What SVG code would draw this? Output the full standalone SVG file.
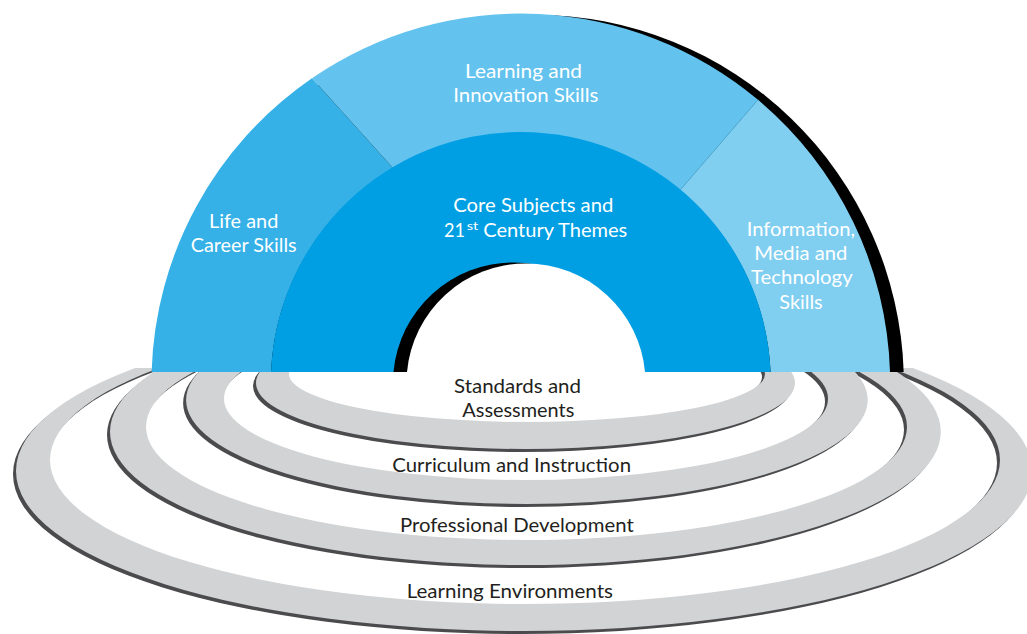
<svg xmlns="http://www.w3.org/2000/svg" xmlns:xlink="http://www.w3.org/1999/xlink" width="1027" height="634" viewBox="0 0 1027 634">
  <style>
    .band { fill: #d1d3d4; fill-rule: evenodd; }
    .shadow { fill: #4b4b4d; fill-rule: evenodd; }
    .life { fill: #35b1e8; }
    .learn { fill: #63c3ee; }
    .info { fill: #80cef0; }
    .core { fill: #009fe3; }
    .wt { font-family: Lato, "Open Sans", "Liberation Sans", sans-serif; font-size: 20px; fill: #ffffff; }
    .bt { font-family: Lato, "Open Sans", "Liberation Sans", sans-serif; font-size: 20px; fill: #231f20; }
  </style>
  <defs>
    <clipPath id="below">
      <rect x="0" y="368" width="1027" height="266"/>
    </clipPath>
    <path id="r4" d="M16,471 A508,160 0 1 0 1032,471 A508,160 0 1 0 16,471 Z M50,460 A475,144 0 1 0 1000,460 A475,144 0 1 0 50,460 Z"/>
    <path id="r3" d="M110,431.7 A415.4,133.3 0 1 0 940.8,431.7 A415.4,133.3 0 1 0 110,431.7 Z M146,426.8 A380.5,113.2 0 1 0 907,426.8 A380.5,113.2 0 1 0 146,426.8 Z"/>
    <path id="r2" d="M186.1,400 A340.8,104 0 1 0 867.7,400 A340.8,104 0 1 0 186.1,400 Z M224,398.7 A302,81.3 0 1 0 828,398.7 A302,81.3 0 1 0 224,398.7 Z"/>
    <path id="r1" d="M256,383 A269.5,66 0 1 0 795,383 A269.5,66 0 1 0 256,383 Z M289,374 A238,48 0 1 0 765,374 A238,48 0 1 0 289,374 Z"/>
  </defs>

  <g id="rings" clip-path="url(#below)">
    <g id="learning-environments">
      <use xlink:href="#r4" href="#r4" class="shadow" transform="translate(-3,3)"/>
      <use xlink:href="#r4" href="#r4" class="band"/>
    </g>
    <g id="professional-development">
      <use xlink:href="#r3" href="#r3" class="shadow" transform="translate(-3,3)"/>
      <use xlink:href="#r3" href="#r3" class="band"/>
    </g>
    <g id="curriculum-instruction">
      <use xlink:href="#r2" href="#r2" class="shadow" transform="translate(-3,3)"/>
      <use xlink:href="#r2" href="#r2" class="band"/>
    </g>
    <g id="standards-assessments">
      <use xlink:href="#r1" href="#r1" class="shadow" transform="translate(-3,3)"/>
      <use xlink:href="#r1" href="#r1" class="band"/>
    </g>
  </g>

  <g id="arch">
    <path id="arch-shadow" d="M165.3,372 A369.4,369.4 0 0 1 903.7,372 Z" fill="#000"/>
    <g id="life-career">
      <path class="life" d="M151.6,372 A369.4,369.4 0 0 1 312,78.3 L393,168.1 A250,250 0 0 0 271,372 Z"/>
    </g>
    <g id="learning-innovation">
      <path class="learn" d="M312,78.3 A369.4,369.4 0 0 1 758,99.8 L680,190.2 A250,250 0 0 0 393,168.1 Z"/>
    </g>
    <g id="information-media">
      <path class="info" d="M758,99.8 A369.4,369.4 0 0 1 890,372 L770.6,372 A250,250 0 0 0 680,190.2 Z"/>
      <line x1="758" y1="99.8" x2="680" y2="190.2" stroke="#4fb3e0" stroke-width="0.7"/>
    </g>
    <g id="core-subjects">
      <path class="core" d="M271,372 A250,250 0 0 1 770.6,372 Z"/>
      <path d="M393.5,372 A120.5,120.5 0 0 1 633.5,372 Z" fill="#000"/>
      <path d="M407,372 A119.5,119.5 0 0 1 645,372 Z" fill="#fff"/>
    </g>
  </g>

  <g id="labels">
    <text class="wt" x="465" y="78" textLength="117" lengthAdjust="spacingAndGlyphs">Learning and</text>
    <text class="wt" x="453.3" y="102" textLength="145" lengthAdjust="spacingAndGlyphs">Innovation Skills</text>
    <text class="wt" x="209" y="228.3" textLength="69.3" lengthAdjust="spacingAndGlyphs">Life and</text>
    <text class="wt" x="190.7" y="252.3" textLength="106" lengthAdjust="spacingAndGlyphs">Career Skills</text>
    <text class="wt" x="453.3" y="211.7" textLength="160" lengthAdjust="spacingAndGlyphs">Core Subjects and</text>
    <text class="wt" x="444" y="236.7" textLength="21" lengthAdjust="spacingAndGlyphs">21</text>
    <text class="wt" x="466.7" y="230" font-size="12" style="font-size:12px" textLength="11.6" lengthAdjust="spacingAndGlyphs">st</text>
    <text class="wt" x="483.3" y="236.7" textLength="144" lengthAdjust="spacingAndGlyphs">Century Themes</text>
    <text class="wt" x="746.7" y="235.7" textLength="108.3" lengthAdjust="spacingAndGlyphs">Information,</text>
    <text class="wt" x="754.3" y="260" textLength="93" lengthAdjust="spacingAndGlyphs">Media and</text>
    <text class="wt" x="751" y="284.3" textLength="101.7" lengthAdjust="spacingAndGlyphs">Technology</text>
    <text class="wt" x="779.3" y="309" textLength="43.4" lengthAdjust="spacingAndGlyphs">Skills</text>
    <text class="bt" x="454" y="393.3" textLength="127" lengthAdjust="spacingAndGlyphs">Standards and</text>
    <text class="bt" x="462.3" y="417.3" textLength="112" lengthAdjust="spacingAndGlyphs">Assessments</text>
    <text class="bt" x="392.3" y="472" textLength="238.7" lengthAdjust="spacingAndGlyphs">Curriculum and Instruction</text>
    <text class="bt" x="400" y="532" textLength="233.7" lengthAdjust="spacingAndGlyphs">Professional Development</text>
    <text class="bt" x="406.7" y="598" textLength="206.3" lengthAdjust="spacingAndGlyphs">Learning Environments</text>
  </g>
</svg>
